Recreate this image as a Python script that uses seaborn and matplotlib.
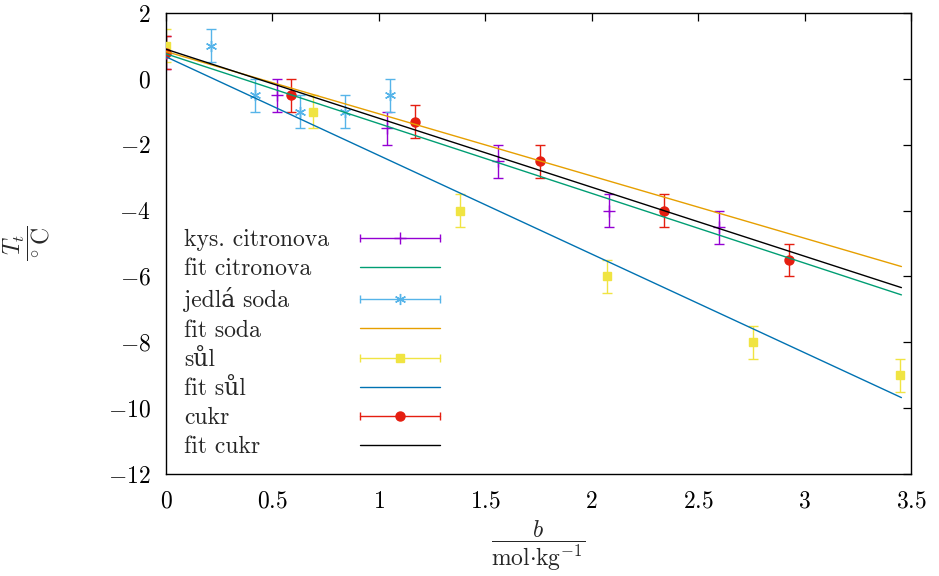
import numpy as np
import pandas as pd
import seaborn as sns
import matplotlib
matplotlib.use("Agg")
import matplotlib.pyplot as plt
from matplotlib.lines import Line2D
from matplotlib.legend_handler import HandlerLine2D, HandlerTuple

# ---------------- data ----------------
b_citronova = [0.0, 0.52, 1.04, 1.56, 2.08, 2.60]
T_citronova = [0.8, -0.5, -1.5, -2.5, -4.0, -4.5]
b_soda = [0.21, 0.42, 0.63, 0.84, 1.05]
T_soda = [1.0, -0.5, -1.0, -1.0, -0.5]
b_sul = [0.0, 0.69, 1.38, 2.07, 2.76, 3.45]
T_sul = [1.0, -1.0, -4.0, -6.0, -8.0, -9.0]
b_cukr = [0.0, 0.585, 1.17, 1.755, 2.34, 2.925]
T_cukr = [0.8, -0.5, -1.3, -2.5, -4.0, -5.5]
T_err = 0.5

fit_b = [0.0, 3.455]
fit_citronova = [0.76, -6.56]
fit_soda = [0.83, -5.70]
fit_sul = [0.67, -9.68]
fit_cukr = [0.90, -6.34]

labels = ["kys. citronova", "fit citronova", "jedlá soda", "fit soda",
          "sůl", "fit sůl", "cukr", "fit cukr"]
x_ticks = [0, 0.5, 1, 1.5, 2, 2.5, 3, 3.5]
y_ticks = [-12, -10, -8, -6, -4, -2, 0, 2]

# ---------------- style ----------------
sns.set_style("white")
plt.rcParams["font.family"] = ["cmr10", "DejaVu Serif"]
plt.rcParams["mathtext.fontset"] = "cm"
plt.rcParams["axes.formatter.use_mathtext"] = True
plt.rcParams["axes.unicode_minus"] = True
FS = 17

fig = plt.figure(figsize=(9.39, 5.76), dpi=100)
ax = fig.add_axes([166 / 939, 1 - 474 / 576, (911 - 166) / 939, (474 - 13) / 576])

series = [
    ("citronova", b_citronova, T_citronova, "#9400d3", "+", 8, fit_citronova, "#009e73"),
    ("soda", b_soda, T_soda, "#56b4e9", (6, 2, 0), 8, fit_soda, "#e69f00"),
    ("sul", b_sul, T_sul, "#f0e442", "s", 6, fit_sul, "#0072b2"),
    ("cukr", b_cukr, T_cukr, "#e51e10", "o", 6.5, fit_cukr, "#000000"),
]

handles = []
hmap = {}
for name, bx, ty, col, mk, ms, fit, fcol in series:
    ax.errorbar(bx, ty, yerr=T_err, fmt="none", ecolor=col, elinewidth=1,
                capsize=3.4, capthick=1, zorder=2)
    ax.plot(bx, ty, ls="none", marker=mk, ms=ms, color=col, mec=col,
            mew=1, zorder=3)
    df = pd.DataFrame({"b": fit_b, "T": fit})
    sns.lineplot(data=df, x="b", y="T", color=fcol, lw=1, ax=ax, zorder=4)
    cap = Line2D([], [], color=col, lw=1, marker="|", ms=6, mew=1)
    cen = Line2D([], [], color=col, ls="none", marker=mk, ms=ms, mew=1)
    hmap[cap] = HandlerLine2D(numpoints=2, marker_pad=0)
    hmap[cen] = HandlerLine2D(numpoints=1)
    handles.append((cap, cen))
    handles.append(Line2D([], [], color=fcol, lw=1))
hmap[tuple] = HandlerTuple(ndivide=1, pad=0)

ax.set_xlim(0, 3.5)
ax.set_ylim(-12, 2)
ax.set_xticks(x_ticks)
ax.set_yticks(y_ticks)
ax.set_xticklabels([f"${t:g}$" for t in x_ticks], fontsize=FS)
ax.set_yticklabels([f"${t:g}$" for t in y_ticks], fontsize=FS)
ax.tick_params(direction="in", length=6, width=0.9, top=True, right=True,
               colors="black")
ax.tick_params(axis="x", pad=12)
ax.tick_params(axis="y", pad=11)
for sp in ax.spines.values():
    sp.set_linewidth(1.0)
    sp.set_color("black")

ax.set_xlabel(r"$\dfrac{b}{\mathrm{mol{\cdot}kg^{-1}}}$", fontsize=FS, labelpad=4)
ax.set_ylabel(r"$\dfrac{T_t}{{}^\circ\mathrm{C}}$", fontsize=FS, labelpad=40)

leg = ax.legend(handles, labels, handler_map=hmap, loc="upper left",
                bbox_to_anchor=(184 / 939, 1 - 229 / 576), bbox_transform=fig.transFigure,
                frameon=False, markerfirst=False, handlelength=57.6 / FS,
                handletextpad=1.0, labelspacing=0.30, borderpad=0,
                borderaxespad=0, fontsize=FS)

fig.canvas.draw()
r = fig.canvas.get_renderer()
dpicor = r.points_to_pixels(1.0)
texts = leg.get_texts()
maxw = max(t.get_window_extent(r).width for t in texts)
base_sep = 31 / dpicor
for colbox in leg._legend_handle_box.get_children():
    for item in colbox.get_children():
        ta = item.get_children()[0]
        w = ta._text.get_window_extent(r).width
        item.sep = base_sep + (maxw - w) / dpicor

fig.savefig("out.png", dpi=100)
